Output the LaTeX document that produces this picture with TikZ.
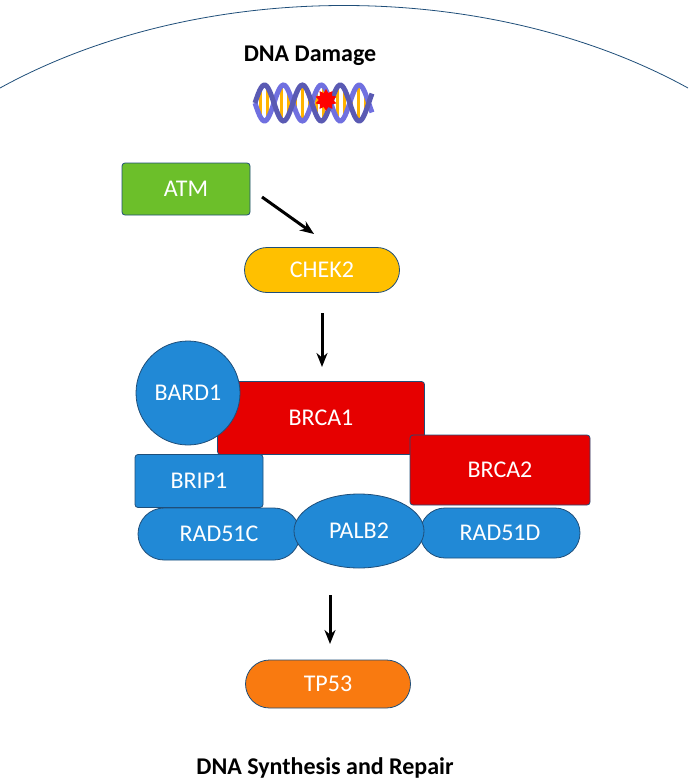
\documentclass[tikz,border=0pt]{standalone}
\usepackage{fontspec}
\setmainfont{Carlito}
\usetikzlibrary{shapes.geometric,shapes.misc,arrows.meta}
\definecolor{protblue}{HTML}{2189D6}
\definecolor{protred}{HTML}{E60000}
\definecolor{atmgreen}{HTML}{6CBF2A}
\definecolor{chekyellow}{HTML}{FFC000}
\definecolor{tporange}{HTML}{F97A10}
\definecolor{edgeblue}{HTML}{1F4E79}
\definecolor{helixblue}{HTML}{7070E0}
\begin{document}
\begin{tikzpicture}[x=1pt,y=-1pt,
    label font/.style={font=\fontsize{24}{28}\selectfont, text=white},
    box/.style={rectangle, rounded corners=3pt, draw=edgeblue, thick, label font, inner sep=0pt},
    pill/.style={rounded rectangle, draw=edgeblue, thick, label font, inner sep=0pt},
    signal/.style={-{Stealth[length=14pt,width=11pt]}, line width=3pt}]
  \useasboundingbox (0,0) rectangle (688,784);

  % cell border
  \draw[edgeblue, thick] (0,88) .. controls (200,-22) and (488,-22) .. (688,88);

  % damage label and helix
  \node[font=\fontsize{24}{28}\selectfont\bfseries] (damage) at (310,56) {DNA Damage};
  \foreach \x in {260,267,...,368}
    \draw[chekyellow!80!orange, line width=3pt] (\x,{103-17*sin(9.5*(\x-255))}) -- (\x,{103+17*sin(9.5*(\x-255))});
  \draw[helixblue, line width=5pt, domain=255:372, samples=80] plot (\x,{103+18*sin(9.5*(\x-255))});
  \draw[helixblue!80!black, line width=5pt, domain=255:372, samples=80] plot (\x,{103-18*sin(9.5*(\x-255))});
  \node[star, star points=10, fill=red, minimum size=22pt, inner sep=0pt] (lesion) at (326,100) {};

  % kinases
  \node[box, fill=atmgreen, minimum width=128, minimum height=52] (atm) at (186,189) {ATM};
  \node[pill, fill=chekyellow, minimum width=155, minimum height=45] (chek2) at (322,270) {CHEK2};

  % repair complex
  \node[box, fill=protred, minimum width=207, minimum height=73] (brca1) at (321,418) {BRCA1};
  \node[circle, draw=edgeblue, thick, fill=protblue, label font, minimum size=104, inner sep=0pt] (bard1) at (188,393) {BARD1};
  \node[box, fill=protred, minimum width=180, minimum height=70] (brca2) at (500,470) {BRCA2};
  \node[box, fill=protblue, minimum width=128, minimum height=53] (brip1) at (199,481) {BRIP1};
  \node[pill, fill=protblue, minimum width=162, minimum height=52] (rad51c) at (219,534) {RAD51C};
  \node[pill, fill=protblue, minimum width=160, minimum height=50] (rad51d) at (500,533) {RAD51D};
  \node[ellipse, draw=edgeblue, thick, fill=protblue, label font, minimum width=130, minimum height=74, inner sep=0pt] (palb2) at (359,531) {PALB2};

  % outcome
  \node[pill, fill=tporange, minimum width=165, minimum height=48] (tp53) at (328,684) {TP53};
  \node[font=\fontsize{24}{28}\selectfont\bfseries] (repair) at (325,768) {DNA Synthesis and Repair};

  \coordinate (a1) at (262,197);
  \coordinate (a2) at (314,234);
  \coordinate (b1) at (322,313);
  \coordinate (b2) at (322,367);
  \coordinate (c1) at (330,595);
  \coordinate (c2) at (330,644);
  \draw[signal] (a1) -- (a2);
  \draw[signal] (b1) -- (b2);
  \draw[signal] (c1) -- (c2);
\end{tikzpicture}
\end{document}
